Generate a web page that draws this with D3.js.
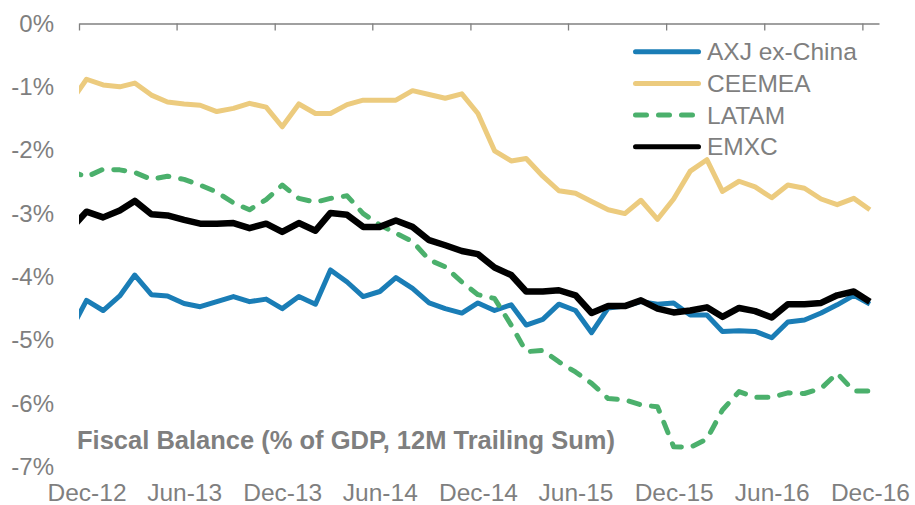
<!DOCTYPE html>
<html>
<head>
<meta charset="utf-8">
<script src="https://cdn.jsdelivr.net/npm/d3@7"></script>
<style>
  body { margin: 0; background: #fff; }
  svg { display: block; font-family: "Liberation Sans", Arial, sans-serif; }
</style>
</head>
<body>
<svg width="915" height="505"></svg>
<script>
// monthly points, Nov-12 .. Dec-16 (first one sits left of the axis and gets clipped)
var months = d3.timeMonth.range(new Date(2012, 10, 1), new Date(2017, 0, 1));
var tickMonths = d3.timeMonth.range(new Date(2012, 11, 1), new Date(2017, 0, 1), 6);
var yTicks = [0, -1, -2, -3, -4, -5, -6, -7];

var seriesNames = ['AXJ ex-China', 'CEEMEA', 'LATAM', 'EMXC'];

var axj = [-4.85, -4.37, -4.53, -4.30, -3.97, -4.28, -4.30, -4.42, -4.47, -4.39, -4.31, -4.39, -4.35,
  -4.50, -4.31, -4.43, -3.89, -4.08, -4.31, -4.23, -4.01, -4.18, -4.41, -4.50, -4.57,
  -4.41, -4.53, -4.44, -4.76, -4.67, -4.43, -4.53, -4.88, -4.49, -4.46, -4.39, -4.43, -4.41,
  -4.60, -4.60, -4.86, -4.85, -4.86, -4.96, -4.71, -4.68, -4.57, -4.44, -4.29, -4.43];

var ceemea = [-1.25, -0.88, -0.97, -1.00, -0.94, -1.13, -1.24, -1.27, -1.29, -1.39, -1.34, -1.26, -1.32,
  -1.63, -1.27, -1.42, -1.42, -1.28, -1.21, -1.21, -1.21, -1.06, -1.12, -1.18, -1.11,
  -1.42, -2.01, -2.17, -2.13, -2.41, -2.64, -2.68, -2.81, -2.94, -3.00, -2.79, -3.09, -2.77,
  -2.33, -2.15, -2.65, -2.49, -2.58, -2.75, -2.55, -2.60, -2.77, -2.86, -2.76, -2.94];

var latam = [-2.33, -2.42, -2.30, -2.31, -2.35, -2.46, -2.41, -2.46, -2.55, -2.66, -2.83, -2.94, -2.78,
  -2.55, -2.76, -2.82, -2.76, -2.72, -3.00, -3.18, -3.31, -3.44, -3.73, -3.84, -4.08,
  -4.28, -4.34, -4.76, -5.18, -5.16, -5.34, -5.50, -5.68, -5.92, -5.94, -6.02, -6.05, -6.68,
  -6.69, -6.56, -6.10, -5.81, -5.90, -5.90, -5.83, -5.84, -5.76, -5.52, -5.80, -5.80];

var emxc = [-3.25, -2.97, -3.06, -2.95, -2.80, -3.01, -3.03, -3.10, -3.16, -3.16, -3.15, -3.23, -3.16,
  -3.29, -3.15, -3.27, -2.99, -3.02, -3.21, -3.21, -3.11, -3.21, -3.42, -3.50, -3.59,
  -3.64, -3.85, -3.97, -4.23, -4.23, -4.21, -4.29, -4.57, -4.46, -4.46, -4.37, -4.50, -4.56,
  -4.53, -4.48, -4.63, -4.49, -4.54, -4.64, -4.43, -4.43, -4.41, -4.29, -4.23, -4.39];

var seriesValues = [axj, ceemea, latam, emxc];
var colors = ['#1a7db6', '#eccb7e', '#4bb06c', '#000000'];
var widths = [5, 5, 5, 6.5];
var dashes = [null, null, '11,12', null];

var grey = '#7f7f7f';
const svg = d3.select('svg');

var x = d3.scaleTime()
  .domain([new Date(2012, 11, 1), new Date(2017, 0, 1)])
  .range([79, 879]);
var y = d3.scaleLinear()
  .domain([-7, 0])
  .range([467, 23.5]);

// data sit in the middle of each month slot
function mid(d) { return d3.timeDay.offset(d, 14); }

svg.append('clipPath')
  .attr('id', 'plot')
  .append('rect')
  .attr('x', 79).attr('y', 0)
  .attr('width', 800).attr('height', 505);

// y labels, no axis line
var yAxis = svg.append('g')
  .attr('transform', 'translate(57,0)')
  .call(d3.axisLeft(y).tickValues(yTicks).tickSize(0).tickPadding(3).tickFormat(function(d) { return d + '%'; }));
yAxis.select('.domain').remove();
yAxis.selectAll('text')
  .style('font-size', '24px')
  .style('font-family', '"Liberation Sans", Arial, sans-serif')
  .attr('fill', grey);

// category axis sits along 0%
var xAxis = svg.append('g')
  .attr('transform', 'translate(0,' + y(0) + ')')
  .call(d3.axisBottom(x).tickValues(tickMonths).tickSize(7).tickSizeOuter(0).tickFormat(''));
xAxis.select('.domain').attr('stroke', '#808080').attr('stroke-width', 1.3);
xAxis.selectAll('.tick line').attr('stroke', '#808080').attr('stroke-width', 1.3);

// month labels down at the bottom
var xLabels = svg.append('g')
  .attr('transform', 'translate(0,484)')
  .call(d3.axisBottom(x).tickValues(tickMonths.map(mid)).tickSize(0).tickPadding(0).tickFormat(d3.timeFormat('%b-%y')));
xLabels.select('.domain').remove();
xLabels.selectAll('text')
  .style('font-size', '24.5px')
  .style('font-family', '"Liberation Sans", Arial, sans-serif')
  .attr('fill', grey);

var line = d3.line()
  .x(function(d, i) { return x(mid(months[i])); })
  .y(function(d) { return y(d); });

var lines = svg.append('g').attr('clip-path', 'url(#plot)');
seriesValues.forEach(function(vals, i) {
  lines.append('path')
    .datum(vals)
    .attr('d', line)
    .attr('fill', 'none')
    .attr('stroke', colors[i])
    .attr('stroke-width', widths[i])
    .attr('stroke-linejoin', 'round')
    .attr('stroke-linecap', dashes[i] ? 'round' : 'butt')
    .attr('stroke-dasharray', dashes[i]);
});

// legend
var legend = svg.append('g')
  .selectAll('g')
  .data(seriesNames)
  .enter().append('g')
  .attr('transform', function(d, i) { return 'translate(0,' + (51.7 + i * 31.7) + ')'; });

legend.append('line')
  .attr('x1', 635.5).attr('x2', 698.5)
  .attr('stroke', function(d, i) { return colors[i]; })
  .attr('stroke-width', 5)
  .attr('stroke-linecap', 'round')
  .attr('stroke-dasharray', function(d, i) { return dashes[i]; });

legend.append('text')
  .attr('x', 707)
  .attr('dy', '0.35em')
  .style('font-size', '24.5px')
  .attr('fill', grey)
  .text(function(d) { return d; });

svg.append('text')
  .attr('x', 77)
  .attr('y', 449)
  .style('font-size', '25.5px')
  .style('font-weight', 'bold')
  .attr('fill', grey)
  .text('Fiscal Balance (% of GDP, 12M Trailing Sum)');
</script>
</body>
</html>
